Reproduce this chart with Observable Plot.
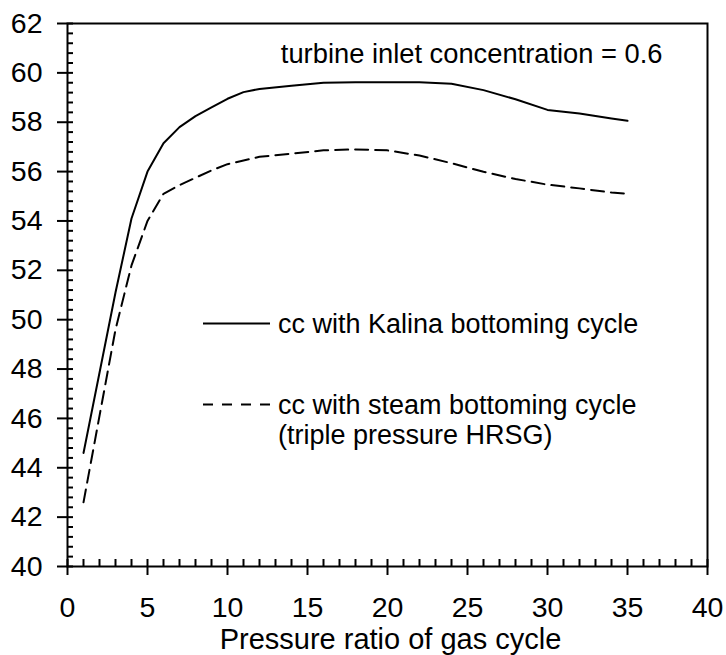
<!DOCTYPE html>
<html>
<head>
<meta charset="utf-8">
<script src="https://cdn.jsdelivr.net/npm/d3@7"></script>
<script src="https://cdn.jsdelivr.net/npm/@observablehq/plot@0.6"></script>
<style>
  body { margin: 0; background: #fff; }
  #chart { width: 726px; height: 655px; }
  #chart svg { display: block; }
</style>
</head>
<body>
<div id="chart"></div>
<script>
// Pressure ratio of the gas cycle (x) and combined-cycle efficiency (%)
const pressureRatio = [1, 2, 3, 4, 5, 6, 7, 8, 9, 10, 11, 12, 14, 16, 18, 20, 22, 24, 26, 28, 30, 32, 34, 35];
const kalinaEff = [44.6, 47.85, 51.1, 54.1, 56.0, 57.15, 57.8, 58.25, 58.6, 58.95, 59.22, 59.35, 59.48, 59.6, 59.62, 59.62, 59.62, 59.56, 59.3, 58.93, 58.5, 58.35, 58.15, 58.06];
const steamEff  = [42.6, 46.1, 49.6, 52.2, 54.0, 55.1, 55.45, 55.75, 56.05, 56.3, 56.45, 56.6, 56.73, 56.86, 56.9, 56.86, 56.65, 56.34, 55.99, 55.7, 55.47, 55.32, 55.15, 55.1];

const xTickLabels = [0, 5, 10, 15, 20, 25, 30, 35, 40];
const yTickLabels = [40, 42, 44, 46, 48, 50, 52, 54, 56, 58, 60, 62];
const xMinorTicks = d3.range(0, 41, 1).filter(v => v % 5 !== 0);
const yMinorTicks = d3.range(0, 56).map(i => +(40 + i * 0.4).toFixed(1)).filter(v => Math.abs(v / 2 - Math.round(v / 2)) > 1e-6);

const seriesNames = ["cc with Kalina bottoming cycle", "cc with steam bottoming cycle"];
const seriesNote = "(triple pressure HRSG)";
const annotation = "turbine inlet concentration = 0.6";
const xTitle = "Pressure ratio of gas cycle";

const kalina = pressureRatio.map((x, i) => ({x, y: kalinaEff[i]}));
const steam = pressureRatio.map((x, i) => ({x, y: steamEff[i]}));

const W = 726, H = 655;
const mL = 67, mR = 19, mT = 23, mB = 89;
const innerW = W - mL - mR, innerH = H - mT - mB;
const font = "'Liberation Sans', Arial, Helvetica, sans-serif";

const chart = Plot.plot({
  width: W,
  height: H,
  marginLeft: mL,
  marginRight: mR,
  marginTop: mT,
  marginBottom: mB,
  style: {fontFamily: font, fontSize: "28px", color: "#000", background: "#fff"},
  x: {domain: [0, 40], axis: null},
  y: {domain: [40, 62], axis: null},
  marks: [
    // minor ticks pointing into the plot
    Plot.tickX(xMinorTicks, {x: d => d, stroke: "#000", strokeWidth: 2, insetTop: innerH - 7}),
    Plot.tickY(yMinorTicks, {y: d => d, stroke: "#000", strokeWidth: 2, insetRight: innerW - 6}),
    // major ticks crossing the axis lines
    Plot.tickX(xTickLabels, {x: d => d, stroke: "#000", strokeWidth: 2, insetTop: innerH - 7, insetBottom: -9}),
    Plot.tickY(yTickLabels, {y: d => d, stroke: "#000", strokeWidth: 2, insetRight: innerW - 6, insetLeft: -10}),
    // tick labels
    Plot.text(xTickLabels, {x: d => d, text: d => String(d), frameAnchor: "bottom", textAnchor: "middle", lineAnchor: "middle", dy: 41, fontSize: 28.5, fill: "#000"}),
    Plot.text(yTickLabels, {y: d => d, text: d => String(d), frameAnchor: "left", textAnchor: "end", lineAnchor: "middle", dx: -25, fontSize: 28.5, fill: "#000"}),
    Plot.frame({stroke: "#000", strokeWidth: 2}),
    Plot.line(kalina, {x: "x", y: "y", stroke: "#000", strokeWidth: 2}),
    Plot.line(steam, {x: "x", y: "y", stroke: "#000", strokeWidth: 2, strokeDasharray: "13,7"}),
    Plot.text([annotation], {text: d => d, frameAnchor: "top-right", textAnchor: "end", lineAnchor: "middle", dx: -45, dy: 31, fontSize: 27.3, fill: "#000"}),
    Plot.text([xTitle], {text: d => d, frameAnchor: "bottom", textAnchor: "middle", lineAnchor: "middle", dx: 3, dy: 73, fontSize: 29, fill: "#000"})
  ]
});

// Legend drawn inside the plot area
const svg = d3.select(chart);
const legend = svg.append("g")
  .attr("font-family", font)
  .attr("font-size", 27)
  .attr("text-anchor", "start")
  .attr("fill", "#000");
const entries = [
  {label: [seriesNames[0]], y: 323.5, dash: null},
  {label: [seriesNames[1], seriesNote], y: 404.5, dash: "10,9"}
];
for (const e of entries) {
  legend.append("line")
    .attr("x1", 203).attr("x2", 270)
    .attr("y1", e.y).attr("y2", e.y)
    .attr("stroke", "#000").attr("stroke-width", 2)
    .attr("stroke-dasharray", e.dash);
  e.label.forEach((t, i) => {
    legend.append("text")
      .attr("x", 278)
      .attr("y", e.y + 9.5 + i * 30)
      .text(t);
  });
}

document.getElementById("chart").appendChild(chart);
</script>
</body>
</html>
